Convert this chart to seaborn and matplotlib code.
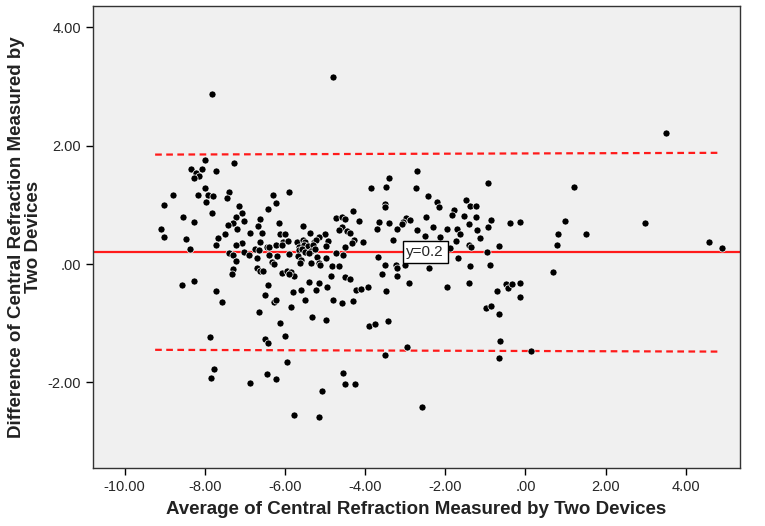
import matplotlib
matplotlib.use("Agg")
import matplotlib.pyplot as plt
import seaborn as sns
import pandas as pd

# Bland-Altman data
avg = [
    -7.81, -8.00, -7.28, -8.34, -8.08, -8.23, -7.71, -8.14, -8.28, -8.80,
    -8.00, -8.17, -7.91, -7.80, -7.39, -7.44, -9.01, -7.97, -7.15, -6.42,
    -8.54, -7.83, -7.08, -7.23, -6.62, -8.28, -7.01, -7.30, -7.42, -6.68,
    -9.09, -7.20, -6.87, -7.50, -9.02, -6.57, -7.66, -6.62, -8.46, -7.06,
    -7.72, -7.21, -6.45, -8.38, -6.75, -6.65, -7.40, -7.01, -6.90, -7.29,
    -6.70,
    -7.23, -6.69, -6.62, -6.54, -7.29, -7.33, -8.56, -8.27, -6.43, -7.72,
    -6.51, -7.57, -6.65, -7.87, -6.51, -6.43, -7.77, -7.84, -6.44, -6.88,
    -4.81, -3.86, -3.41, -3.48, -6.29, -5.89, -6.22, -3.50, -3.51, -4.30,
    -4.73, -4.58, -4.51, -4.14, -3.65, -3.41, -6.16, -5.56, -4.58, -4.65,
    -4.44, -4.38, -3.70, -6.13, -6.01, -5.37, -5.00, -5.16, -6.04, -5.92,
    -5.71, -5.56, -5.49, -5.28, -5.22, -4.93, -4.28, -4.33, -4.06, -3.30,
    -6.40, -6.22, -6.07, -5.64, -5.53, -5.42, -5.31, -4.98, -4.49, -5.66,
    -5.57, -5.49, -5.36, -5.24, -6.40, -6.20, -5.91, -5.67, -5.41, -5.20,
    -4.97, -4.73, -4.54, -3.68,
    -6.32, -6.28, -5.59, -5.62, -5.34, -5.14, -5.12, -4.83, -4.64, -3.50,
    -6.07, -5.95, -5.84, -5.78, -5.91, -3.58, -4.84, -4.49, -4.37, -5.41,
    -5.16, -4.94, -5.22, -5.59, -5.79, -4.23, -4.09, -3.93, -3.48, -6.28,
    -6.22, -5.49, -4.81, -4.58, -4.31, -5.86, -5.32, -4.97, -6.12, -3.90,
    -3.75, -3.43, -5.99, -3.50, -5.96, -6.22, -4.55, -4.51, -4.26, -5.07,
    -5.77, -5.16,
    -2.71, -2.74, -0.94, -2.43, -2.21, -2.15, -1.48, -1.37, -1.24, -1.78,
    -1.83, -2.48, -1.53, -1.22, -0.87, -2.99, -2.88, -3.05, -3.07, -2.30,
    -1.41, -0.94, -0.39, -3.20, -2.70, -1.95, -1.70, -1.20, -1.62, -2.51,
    -1.13, -2.13, -1.73, -1.41, -1.35, -0.66, -1.87, -0.95, -1.68,
    -3.24, -3.20, -3.01, -2.41, -1.38, -0.89, -3.21, -2.91, -1.95, -1.40,
    -0.72, -0.49, -0.44, -0.33, -0.99, -0.85, -0.66, -0.64, -2.95, -0.65,
    -2.57,
    3.50, 1.22, -0.14, 1.00, 2.98, 0.82, 1.51, 0.79, 4.58, 4.90,
    0.69, -0.14, -0.14, 0.15,
]
diff = [
    2.88, 1.76, 1.70, 1.60, 1.60, 1.54, 1.58, 1.49, 1.45, 1.17,
    1.28, 1.17, 1.17, 1.15, 1.21, 1.12, 1.00, 1.05, 0.98, 0.93,
    0.80, 0.86, 0.86, 0.79, 0.76, 0.71, 0.73, 0.69, 0.66, 0.65,
    0.59, 0.59, 0.53, 0.50, 0.46, 0.52, 0.44, 0.38, 0.43, 0.36,
    0.33, 0.32, 0.29, 0.26, 0.25, 0.24, 0.19, 0.21, 0.16, 0.15,
    0.11,
    0.05, -0.07, -0.11, -0.12, -0.08, -0.16, -0.36, -0.29, -0.35, -0.45,
    -0.53, -0.65, -0.81, -1.24, -1.27, -1.34, -1.78, -1.92, -1.86, -2.01,
    3.16, 1.28, 1.45, 1.30, 1.17, 1.21, 1.04, 1.01, 0.97, 0.90,
    0.78, 0.79, 0.76, 0.73, 0.71, 0.69, 0.70, 0.65, 0.63, 0.57,
    0.56, 0.52, 0.59, 0.50, 0.50, 0.52, 0.51, 0.46, 0.38, 0.39,
    0.37, 0.41, 0.37, 0.38, 0.41, 0.39, 0.41, 0.36, 0.38, 0.41,
    0.28, 0.32, 0.32, 0.29, 0.32, 0.30, 0.33, 0.30, 0.28, 0.24,
    0.25, 0.21, 0.22, 0.26, 0.15, 0.14, 0.17, 0.14, 0.18, 0.12,
    0.11, 0.19, 0.15, 0.12,
    0.04, 0.00, 0.07, 0.02, 0.02, 0.02, -0.02, -0.03, -0.03, -0.02,
    -0.15, -0.11, -0.13, -0.20, -0.16, -0.16, -0.20, -0.22, -0.26, -0.30,
    -0.32, -0.38, -0.44, -0.44, -0.48, -0.44, -0.43, -0.39, -0.46, -0.64,
    -0.60, -0.61, -0.61, -0.66, -0.62, -0.73, -0.90, -0.95, -0.99, -1.04,
    -1.01, -0.97, -1.22, -1.53, -1.66, -1.94, -1.85, -2.03, -2.03, -2.15,
    -2.56, -2.59,
    1.58, 1.28, 1.37, 1.15, 1.05, 0.97, 1.09, 0.98, 0.98, 0.92,
    0.83, 0.80, 0.81, 0.80, 0.75, 0.78, 0.74, 0.71, 0.67, 0.63,
    0.68, 0.63, 0.69, 0.59, 0.57, 0.60, 0.60, 0.57, 0.50, 0.47,
    0.44, 0.46, 0.39, 0.33, 0.29, 0.30, 0.27, 0.21, 0.11,
    -0.02, -0.06, -0.02, -0.07, -0.03, -0.02, -0.20, -0.32, -0.39, -0.32,
    -0.45, -0.34, -0.41, -0.34, -0.75, -0.71, -0.84, -1.30, -1.40, -1.59,
    -2.42,
    2.22, 1.30, 0.71, 0.72, 0.69, 0.50, 0.50, 0.32, 0.38, 0.27,
    -0.14, -0.32, -0.55, -1.47,
]

mean_diff = 0.2
loa_x = [-9.24, 4.85]
upper_loa = [1.85, 1.88]
lower_loa = [-1.45, -1.48]

x_ticks = [-10, -8, -6, -4, -2, 0, 2, 4]
y_ticks = [-2, 0, 2, 4]


def spss_fmt(v):
    s = f"{v:.2f}"
    return s.replace("0.00", ".00") if v == 0 else s


df = pd.DataFrame({"avg": avg, "diff": diff})

sns.set_style("white")
plt.rcParams["font.family"] = ["Liberation Sans", "DejaVu Sans"]

fig = plt.figure(figsize=(7.65, 5.26), dpi=100)
ax = fig.add_axes([0.1216, 0.110, 0.8454, 0.8795])
ax.set_facecolor("#f0f0f0")

ax.axhline(mean_diff, color="#ff1a1a", lw=1.6, zorder=2)
ax.plot(loa_x, upper_loa, color="#ff1a1a", lw=1.6, ls=(0, (3, 2)), zorder=2)
ax.plot(loa_x, lower_loa, color="#ff1a1a", lw=1.6, ls=(0, (3, 2)), zorder=2)

sns.scatterplot(data=df, x="avg", y="diff", ax=ax, color="black", s=26,
                edgecolor="white", linewidth=0.5, zorder=3)

ax.text(-2.5, mean_diff, "y=0.2", ha="center", va="center", fontsize=11,
        zorder=4, bbox=dict(boxstyle="square,pad=0.25", fc="white", ec="black", lw=1))

ax.set_xlim(-10.79, 5.35)
ax.set_ylim(-3.45, 4.37)
ax.set_xticks(x_ticks)
ax.set_xticklabels([spss_fmt(v) for v in x_ticks])
ax.set_yticks(y_ticks)
ax.set_yticklabels([spss_fmt(v) for v in y_ticks])
ax.tick_params(axis="both", direction="out", length=5, width=1, labelsize=10.5,
               bottom=True, left=True, color="black")

for sp in ax.spines.values():
    sp.set_color("#333333")
    sp.set_linewidth(1)

ax.set_xlabel("Average of Central Refraction Measured by Two Devices",
              fontsize=13.5, fontweight="bold", color="#222222", labelpad=5)
ax.set_ylabel("Difference of Central Refraction Measured by\nTwo Devices",
              fontsize=13.5, fontweight="bold", color="#222222", labelpad=4,
              linespacing=1.0)

fig.savefig("out.png", dpi=100)
